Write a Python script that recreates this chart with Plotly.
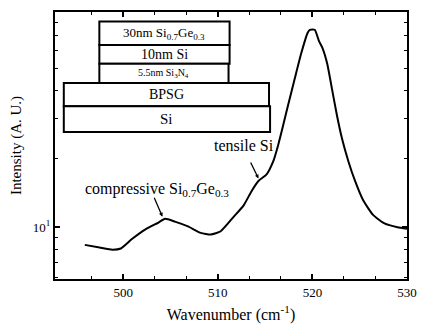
import plotly.graph_objects as go

# Raman spectrum of the strained Si / SiGe stack
wavenumber = [495.95, 497.51, 498.86, 499.76, 500.93, 502.36, 503.74, 504.43, 505.47,
              506.85, 508.20, 509.27, 510.31, 511.70, 512.74, 513.60, 514.30, 515.16,
              515.86, 516.38, 516.90, 517.41, 518.10, 518.80, 519.49, 519.73, 520.25,
              520.70, 521.05, 521.57, 522.09, 522.61, 523.13, 523.81, 524.51, 525.37,
              526.41, 527.62, 529.00, 530.0]
intensity = [8.37, 8.15, 7.97, 8.07, 8.88, 9.80, 10.5, 10.9, 10.6,
             10.1, 9.45, 9.30, 9.61, 11.15, 12.5, 14.5, 16.0, 17.1,
             19.5, 23.0, 28.0, 34.2, 44.5, 57.9, 71.7, 74.1, 74.1,
             66.0, 61.8, 52.5, 40.3, 30.9, 24.6, 19.5, 16.0, 13.15,
             11.34, 10.4, 10.0, 9.85]

x_major = [500, 510, 520, 530]
x_minor = [496.67, 503.33, 506.67, 513.33, 516.67, 523.33, 526.67]
y_major = [10]
y_major_text = ["10<sup>1</sup>"]
y_minor = [6, 7, 8, 9, 20, 30, 40, 50, 60, 70, 80]

# layer stack of the sample (label, font size, left, right, bottom, top) in paper units
layers = [
    ("30nm Si<sub>0.7</sub>Ge<sub>0.3</sub>", 13, 0.126, 0.496, 0.876, 0.964),
    ("10nm Si", 14, 0.126, 0.496, 0.806, 0.876),
    ("5.5nm Si<sub>3</sub>N<sub>4</sub>", 10, 0.126, 0.493, 0.734, 0.806),
    ("BPSG", 14, 0.025, 0.608, 0.647, 0.734),
    ("Si", 15, 0.025, 0.611, 0.551, 0.647),
]

FONT = "Liberation Serif, Times New Roman, serif"

fig = go.Figure()
fig.add_trace(go.Scatter(
    x=wavenumber, y=intensity, mode="lines",
    line=dict(color="black", width=2, shape="spline", smoothing=0.5),
    showlegend=False, hoverinfo="skip", cliponaxis=True,
))

for label, size, x0, x1, y0, y1 in layers:
    fig.add_shape(type="rect", xref="paper", yref="paper", x0=x0, x1=x1, y0=y0, y1=y1,
                  line=dict(color="black", width=2), fillcolor="white", layer="above")
    fig.add_annotation(xref="paper", yref="paper", x=(x0 + x1) / 2, y=(y0 + y1) / 2,
                       text=label, showarrow=False, font=dict(family=FONT, size=size, color="black"),
                       xanchor="center", yanchor="middle")

# peak labels with pointers to the curve
fig.add_annotation(x=503.6, y=1.165, xref="x", yref="y",
                   text="compressive Si<sub>0.7</sub>Ge<sub>0.3</sub>", showarrow=False,
                   font=dict(family=FONT, size=16, color="black"))
fig.add_annotation(x=504.15, y=1.047, ax=503.22, ay=1.137, xref="x", yref="y", axref="x", ayref="y",
                   text="", showarrow=True, arrowhead=2, arrowsize=0.6, arrowwidth=1.3,
                   arrowcolor="black", standoff=0)
fig.add_annotation(x=512.8, y=1.36, xref="x", yref="y",
                   text="tensile Si", showarrow=False,
                   font=dict(family=FONT, size=16, color="black"))
fig.add_annotation(x=514.3, y=1.215, ax=513.4, ay=1.292, xref="x", yref="y", axref="x", ayref="y",
                   text="", showarrow=True, arrowhead=2, arrowsize=0.6, arrowwidth=1.3,
                   arrowcolor="black", standoff=0)

axis_common = dict(showline=True, linecolor="black", linewidth=2, mirror="ticks",
                   ticks="inside", tickcolor="black", tickwidth=1.5, ticklen=5,
                   showgrid=False, zeroline=False,
                   tickfont=dict(family=FONT, size=13, color="black"))

fig.update_xaxes(range=[492.8, 530], tickmode="array", tickvals=x_major,
                 minor=dict(tickmode="array", tickvals=x_minor, ticks="inside", ticklen=3,
                            tickcolor="black", tickwidth=1.2, showgrid=False),
                 title_text="Wavenumber (cm<sup>-1</sup>)", title_standoff=10,
                 title_font=dict(family=FONT, size=16, color="black"), **axis_common)
fig.update_yaxes(type="log", range=[0.7725, 1.948], tickmode="array",
                 tickvals=y_major, ticktext=y_major_text,
                 minor=dict(tickmode="array", tickvals=y_minor, ticks="inside", ticklen=3,
                            tickcolor="black", tickwidth=1.2, showgrid=False),
                 title_text="Intensity (A. U.)", title_standoff=8,
                 title_font=dict(family=FONT, size=15, color="black"), **axis_common)

fig.update_layout(width=427, height=331, margin=dict(l=55, r=15, t=10, b=47),
                  paper_bgcolor="white", plot_bgcolor="white",
                  font=dict(family=FONT, color="black"))

fig.write_html("out.html")
